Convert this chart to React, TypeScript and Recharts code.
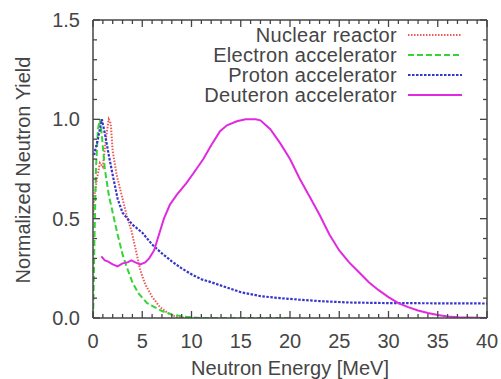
import { LineChart, Line, XAxis, YAxis, Legend } from 'recharts'

const FONT = '"Liberation Sans", Arial, Helvetica, sans-serif'
const INK = '#454545'
const FS = 20

// energy grid (MeV) and normalized yield for each source
const reactorE = [0.02, 0.1, 0.4, 0.7, 1.0, 1.3, 1.6, 1.8, 2.0, 2.4, 3.0, 3.5, 3.9, 4.4, 4.8, 5.3, 6.0, 6.8, 7.6, 8.5, 10]
const reactorY = [0.52, 0.6, 0.7, 0.78, 0.76, 0.9, 1.0, 0.98, 0.84, 0.72, 0.6, 0.5, 0.44, 0.33, 0.24, 0.17, 0.107, 0.055, 0.025, 0.005, 0]

const electronE = [0, 0.05, 0.15, 0.3, 0.5, 0.7, 0.9, 1.2, 1.6, 2.0, 2.5, 3.0, 3.4, 4.0, 4.6, 5.5, 7.0, 8.0, 9.3, 11, 20]
const electronY = [0, 0.1, 0.4, 0.75, 0.95, 1.0, 0.92, 0.75, 0.62, 0.53, 0.42, 0.32, 0.26, 0.18, 0.125, 0.075, 0.035, 0.018, 0.006, 0, 0]

const protonE = [0.1, 0.5, 0.9, 1.2, 1.6, 2.0, 2.5, 3.0, 3.5, 4.0, 5.0, 6.0, 7.0, 8.0, 9.0, 10, 11, 12, 13.5, 15, 17, 19, 21, 23, 26, 30, 35, 40]
const protonY = [0.82, 0.9, 1.0, 0.93, 0.82, 0.72, 0.6, 0.53, 0.5, 0.47, 0.43, 0.37, 0.325, 0.285, 0.25, 0.22, 0.195, 0.18, 0.155, 0.13, 0.11, 0.1, 0.092, 0.085, 0.078, 0.075, 0.074, 0.073]

const deuteronE = [0.85, 1.2, 1.5, 2.0, 2.5, 3.0, 3.5, 3.9, 4.3, 4.8, 5.3, 5.7, 6.2, 6.7, 7.2, 7.8, 8.5, 9.5, 10.5, 11.2, 12, 12.9, 13.6, 14.6, 15.5, 16.5, 17, 18, 19, 20, 21, 22, 23, 24, 25, 26, 27, 28, 29, 30, 31, 32, 33, 34, 35, 36, 37, 38, 40]
const deuteronY = [0.31, 0.29, 0.285, 0.27, 0.26, 0.275, 0.28, 0.29, 0.28, 0.27, 0.28, 0.3, 0.34, 0.42, 0.5, 0.57, 0.62, 0.68, 0.75, 0.8, 0.87, 0.94, 0.97, 0.99, 1.0, 1.0, 0.995, 0.95, 0.88, 0.8, 0.7, 0.61, 0.52, 0.42, 0.34, 0.28, 0.23, 0.18, 0.14, 0.105, 0.075, 0.055, 0.038, 0.025, 0.015, 0.008, 0.004, 0.002, 0]

const xLabels = [0, 5, 10, 15, 20, 25, 30, 35, 40]
const yLabels = ['0.0', '0.5', '1.0', '1.5']

// one tick per MeV and per 0.1, labels every 5 MeV / 0.5
const xTicks = Array.from({ length: 41 }, (_, i) => i)
const yTicks = Array.from({ length: 16 }, (_, i) => i / 10)

const toPoints = (es: number[], ys: number[]) => es.map((e, i) => ({ e, y: ys[i] }))

const SERIES = [
  { name: 'Nuclear reactor', data: toPoints(reactorE, reactorY), color: '#f05858', dash: '1.5 1.5', width: 2 },
  { name: 'Electron accelerator', data: toPoints(electronE, electronY), color: '#35d435', dash: '6 3', width: 2 },
  { name: 'Proton accelerator', data: toPoints(protonE, protonY), color: '#3535cc', dash: '2.5 1.5', width: 2.2 },
  { name: 'Deuteron accelerator', data: toPoints(deuteronE, deuteronY), color: '#e02ae0', dash: undefined, width: 2 },
]

const isMajor = (v: number) => Math.round(v * 10) % 5 === 0

function BottomTick({ x, y, payload }: any) {
  const v = payload.value
  const major = v % 5 === 0
  return (
    <g>
      <path d={`M${x},${y}V${y - (major ? 7 : 4)}`} stroke={INK} strokeWidth={1.3} fill="none" />
      {major && xLabels.includes(v) && (
        <text x={x} y={y + 23} textAnchor="middle" dominantBaseline="central" fill={INK} fontSize={FS} fontFamily={FONT}>
          {v}
        </text>
      )}
    </g>
  )
}

function TopTick({ x, y, payload }: any) {
  const major = payload.value % 5 === 0
  return <path d={`M${x},${y}V${y + (major ? 7 : 4)}`} stroke={INK} strokeWidth={1.3} fill="none" />
}

function LeftTick({ x, y, payload }: any) {
  const v = payload.value
  const major = isMajor(v)
  const label = yLabels.find((l) => Math.abs(parseFloat(l) - v) < 1e-6)
  return (
    <g>
      <path d={`M${x},${y}H${x + (major ? 7 : 4)}`} stroke={INK} strokeWidth={1.3} fill="none" />
      {major && label && (
        <text x={x - 13} y={y} textAnchor="end" dominantBaseline="central" fill={INK} fontSize={FS} fontFamily={FONT}>
          {label}
        </text>
      )}
    </g>
  )
}

function RightTick({ x, y, payload }: any) {
  const major = isMajor(payload.value)
  return <path d={`M${x},${y}H${x - (major ? 7 : 4)}`} stroke={INK} strokeWidth={1.3} fill="none" />
}

function KeyBox() {
  return (
    <svg width={501} height={110} style={{ display: 'block' }}>
      {SERIES.map((s, i) => {
        const cy = 35 + i * 20
        return (
          <g key={s.name}>
            <text x={397} y={cy} textAnchor="end" dominantBaseline="central" fill={INK} fontSize={FS} letterSpacing={0.3} fontFamily={FONT}>
              {s.name}
            </text>
            <line x1={408} x2={462} y1={cy} y2={cy} stroke={s.color} strokeWidth={s.width} strokeDasharray={s.dash} />
          </g>
        )
      })}
    </svg>
  )
}

export default function App() {
  return (
    <div style={{ position: 'absolute', left: 0, top: 0, background: '#fff' }}>
      {/* top and right axes need a 1px band or they are not drawn */}
      <LineChart width={501} height={379} margin={{ top: 19, right: 13, bottom: 0, left: 0 }}>
        <XAxis
          dataKey="e"
          type="number"
          domain={[0, 40]}
          ticks={xTicks}
          interval={0}
          allowDataOverflow
          height={61}
          tickSize={0}
          tickMargin={0}
          tickLine={false}
          tick={BottomTick}
          axisLine={{ stroke: INK, strokeWidth: 1.5 }}
          label={() => (
            <text x={290} y={368} textAnchor="middle" dominantBaseline="central" fill={INK} fontSize={FS} fontFamily={FONT}>
              Neutron Energy [MeV]
            </text>
          )}
        />
        <XAxis
          xAxisId="top"
          orientation="top"
          dataKey="e"
          type="number"
          domain={[0, 40]}
          ticks={xTicks}
          interval={0}
          allowDataOverflow
          height={1}
          tickSize={0}
          tickMargin={0}
          tickLine={false}
          tick={TopTick}
          axisLine={{ stroke: INK, strokeWidth: 1.5 }}
        />
        <YAxis
          type="number"
          domain={[0, 1.5]}
          ticks={yTicks}
          interval={0}
          allowDataOverflow
          width={93}
          tickSize={0}
          tickMargin={0}
          tickLine={false}
          tick={LeftTick}
          axisLine={{ stroke: INK, strokeWidth: 1.5 }}
          label={() => (
            <text
              x={23}
              y={170}
              transform="rotate(-90 23 170)"
              textAnchor="middle"
              dominantBaseline="central"
              fill={INK}
              fontSize={FS}
              fontFamily={FONT}
            >
              Normalized Neutron Yield
            </text>
          )}
        />
        <YAxis
          yAxisId="right"
          orientation="right"
          type="number"
          domain={[0, 1.5]}
          ticks={yTicks}
          interval={0}
          allowDataOverflow
          width={1}
          tickSize={0}
          tickMargin={0}
          tickLine={false}
          tick={RightTick}
          axisLine={{ stroke: INK, strokeWidth: 1.5 }}
        />
        {SERIES.map((s) => (
          <Line
            key={s.name}
            name={s.name}
            data={s.data}
            dataKey="y"
            type="linear"
            stroke={s.color}
            strokeWidth={s.width}
            strokeDasharray={s.dash}
            dot={false}
            activeDot={false}
            isAnimationActive={false}
          />
        ))}
        <Legend
          layout="vertical"
          align="center"
          verticalAlign="middle"
          wrapperStyle={{ position: 'absolute', top: 0, left: 0, width: 501, height: 110, pointerEvents: 'none' }}
          content={() => <KeyBox />}
        />
      </LineChart>
    </div>
  )
}
